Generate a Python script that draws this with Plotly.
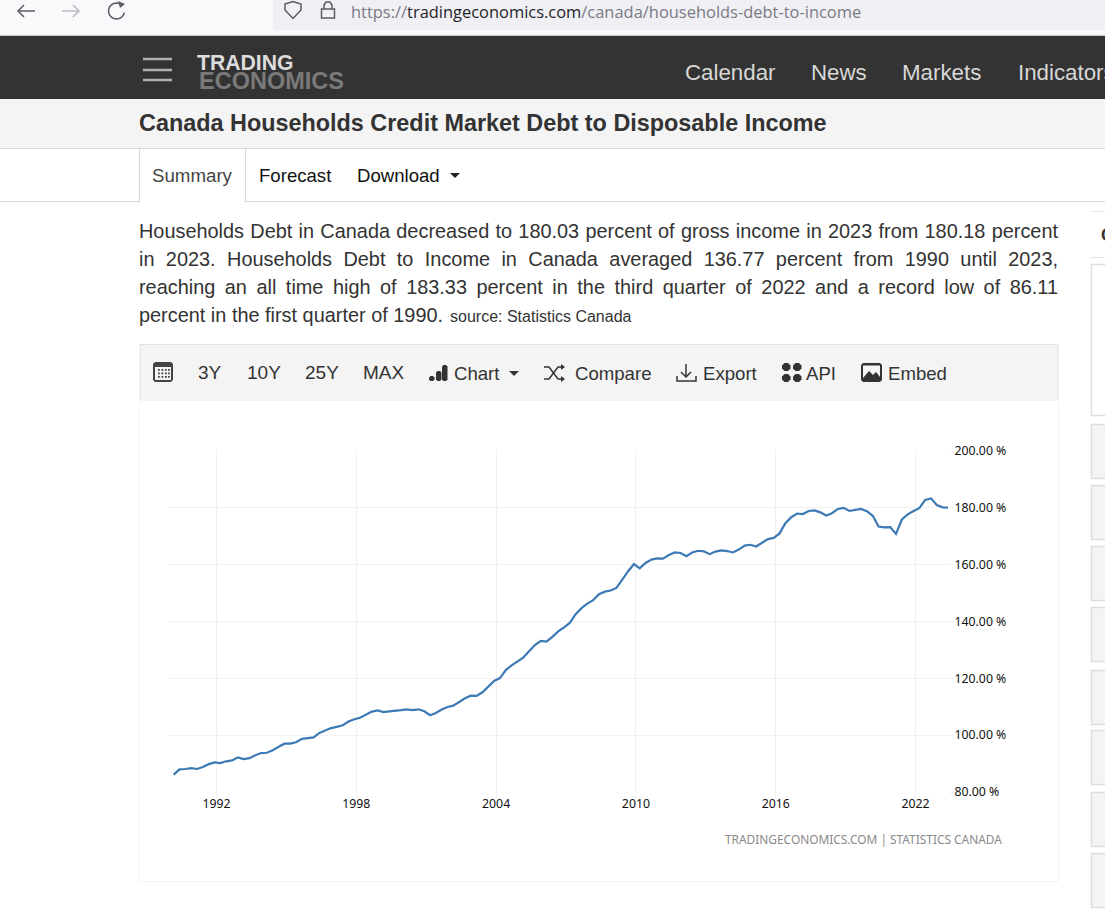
import math
import pandas as pd
import plotly.graph_objects as go

W, H = 1105, 915

# ---------- data ----------
START_QUARTER = "1990-03-01"
debt_to_income = [
    86.1, 87.95, 88.1, 88.4, 88.1, 88.8, 89.8, 90.4, 90.2, 90.8,
    91.1, 92.2, 91.6, 91.9, 92.9, 93.7, 93.8, 94.7, 95.9, 97.0,
    97.0, 97.5, 98.7, 98.9, 99.2, 100.8, 101.6, 102.5, 102.9, 103.5,
    104.8, 105.6, 106.1, 107.3, 108.3, 108.7, 108.1, 108.4, 108.5, 108.8,
    109.1, 108.8, 109.1, 108.4, 107.0, 107.8, 109.0, 109.9, 110.4, 111.7,
    113.0, 113.9, 113.8, 115.1, 117.3, 119.1, 120.1, 122.9, 124.6, 126.0,
    127.3, 129.5, 131.7, 133.2, 132.9, 134.6, 136.5, 137.9, 139.5, 142.6,
    144.7, 146.3, 147.5, 149.6, 150.5, 150.9, 151.8, 154.7, 157.7, 160.2,
    158.7, 160.6, 161.8, 162.2, 162.1, 163.4, 164.3, 164.1, 163.0, 164.3,
    164.9, 164.7, 163.7, 164.6, 165.0, 164.8, 164.3, 165.3, 166.7, 167.0,
    166.4, 167.7, 169.0, 169.4, 171.0, 174.6, 176.7, 178.0, 177.8, 178.9,
    179.1, 178.4, 177.3, 178.1, 179.6, 180.0, 178.9, 179.3, 179.6, 178.8,
    177.2, 173.4, 173.1, 173.2, 170.8, 175.9, 177.7, 178.9, 179.9, 182.8,
    183.33, 181.0, 180.18, 180.03,
]
x_tick_years = [1992, 1998, 2004, 2010, 2016, 2022]
y_tick_values = [80, 100, 120, 140, 160, 180, 200]
nav_items = [("Calendar", 685), ("News", 811), ("Markets", 902), ("Indicators", 1017.5)]
range_buttons = [("3Y", 198), ("10Y", 247), ("25Y", 305), ("MAX", 363)]
paragraph = [
    "Households Debt in Canada decreased to 180.03 percent of gross income in 2023 from 180.18 percent",
    "in 2023. Households Debt to Income in Canada averaged 136.77 percent from 1990 until 2023,",
    "reaching an all time high of 183.33 percent in the third quarter of 2022 and a record low of 86.11",
]
paragraph_last = "percent in the first quarter of 1990."

dates = pd.date_range(START_QUARTER, periods=len(debt_to_income), freq="3MS")

LINE = "#3d7ab5"
FONT = "Liberation Sans"
TICKF = "Noto Sans"

px = lambda v: v / W
py = lambda v: 1 - v / H

shapes, notes = [], []


def rect(x0, y0, x1, y1, fill="rgba(0,0,0,0)", line=None, lw=1):
    shapes.append(dict(type="rect", xref="paper", yref="paper", layer="below",
                       x0=px(x0), x1=px(x1), y0=py(y0), y1=py(y1), fillcolor=fill,
                       line=dict(color=line or "rgba(0,0,0,0)", width=lw if line else 0)))


def seg(x0, y0, x1, y1, color, lw=1):
    shapes.append(dict(type="line", xref="paper", yref="paper", layer="below",
                       x0=px(x0), x1=px(x1), y0=py(y0), y1=py(y1),
                       line=dict(color=color, width=lw)))


def poly(points, fill=None, line=None, lw=1.5, closed=True):
    d = "M" + " L".join(f"{px(a):.5f},{py(b):.5f}" for a, b in points) + (" Z" if closed else "")
    shapes.append(dict(type="path", xref="paper", yref="paper", layer="below", path=d,
                       fillcolor=fill or "rgba(0,0,0,0)",
                       line=dict(color=line or "rgba(0,0,0,0)", width=lw if line else 0)))


def rrect(x0, y0, x1, y1, r, fill):
    poly([(x0 + r, y0), (x1 - r, y0), (x1, y0 + r), (x1, y1 - r),
          (x1 - r, y1), (x0 + r, y1), (x0, y1 - r), (x0, y0 + r)], fill=fill)


def text(x, y, s, size, color="#333333", font=FONT, anchor="left", bold=False):
    if bold:
        s = f"<b>{s}</b>"
    notes.append(dict(xref="paper", yref="paper", x=px(x), y=py(y), text=s, showarrow=False,
                      xanchor=anchor, yanchor="middle", align=anchor,
                      font=dict(size=size, color=color, family=font),
                      borderpad=0, borderwidth=0))


# ---------- browser chrome ----------
rect(0, 0, W, 36, "#f9f9fb")
seg(0, 35.5, W, 35.5, "#cfcfd2", 1.5)
rect(273, 0, W, 30, "#f0f0f4")
poly([(35, 11), (18, 11)], line="#5b5b66", closed=False)
poly([(24, 5), (18, 11), (24, 17)], line="#5b5b66", closed=False)
poly([(62, 11), (79, 11)], line="#b9b9c0", closed=False)
poly([(73, 5), (79, 11), (73, 17)], line="#b9b9c0", closed=False)
arc = [(116.5 + 8 * math.cos(math.radians(a)), 11 - 8 * math.sin(math.radians(a)))
       for a in range(50, 360, 20)]
poly(arc, line="#5b5b66", closed=False)
poly([(118, 1), (125, 4), (120, 8)], fill="#5b5b66")
poly([(285, 4), (293, 1.5), (301, 4), (301, 10), (293, 18.5), (285, 10)], line="#5b5b66")
rect(321.5, 9, 334.5, 18, line="#5b5b66", lw=1.5)
poly([(324, 9), (324, 5), (326, 2), (330, 2), (332, 5), (332, 9)], line="#5b5b66", closed=False)
notes.append(dict(xref="paper", yref="paper", x=px(349), y=py(12), showarrow=False,
                  xanchor="left", yanchor="middle",
                  text='<span style="color:#7a7a85">https://</span>tradingeconomics.com'
                       '<span style="color:#7a7a85">/canada/households-debt-to-income</span>',
                  font=dict(size=16.45, color="#1f1f28", family="Open Sans")))

# ---------- site header ----------
rect(0, 36, W, 99, "#333333")
for yy in (59, 70, 80):
    seg(143, yy, 172, yy, "#b0b0b0", 2.5)
text(197, 62.5, "TRADING", 21.2, "#dddddd", bold=True)
text(199, 81.5, "ECONOMICS", 23.5, "#7a7a7a", bold=True)
for label, xx in nav_items:
    text(xx, 72, label, 22.3, "#d8d8d8")

rect(0, 99, W, 148.5, "#f4f4f4")
seg(0, 148.5, W, 148.5, "#d8d8d8")
text(139, 123, "Canada Households Credit Market Debt to Disposable Income", 23.4, "#333333", bold=True)

seg(0, 201.5, 139, 201.5, "#d8d8d8")
seg(245, 201.5, W, 201.5, "#d8d8d8")
seg(139.5, 149, 139.5, 202, "#d8d8d8")
seg(245.5, 149, 245.5, 202, "#d8d8d8")
text(152, 175.5, "Summary", 18.7, "#444444")
text(258.5, 175.5, "Forecast", 18.6, "#111111")
text(356.5, 175.5, "Download", 18.6, "#111111")
poly([(450, 173), (460, 173), (455, 178)], fill="#222222")

# ---------- paragraph ----------
for i, line in enumerate(paragraph):
    text(139, 231 + i * 28, line, 19.9, "#333333")
text(139, 315, paragraph_last, 19.9, "#333333")
text(450, 316, "source: Statistics Canada", 16, "#333333")

# ---------- chart toolbar ----------
rect(140, 344.5, 1058, 400.5, "#f4f4f4", "#e2e2e2")
rrect(153, 362, 173, 382, 2, "#444444")
rect(155, 367, 171, 380, "#f4f4f4")
for a in (159, 162.5, 166, 169):
    for b in (370, 373.5, 377):
        rect(a - 1, b - 1, a + 0.8, b + 0.8, "#444444")
for label, xx in range_buttons:
    text(xx, 372, label, 19, "#333333")
for a, top in ((429, 376), (436, 371), (442, 365)):
    rrect(a, top, a + 5.5, 381, 1.5, "#333333")
text(454, 373.5, "Chart", 18.6, "#333333")
poly([(509, 371), (519, 371), (514, 376)], fill="#333333")
poly([(544, 379), (549, 379), (558, 367), (564, 367)], line="#333333", closed=False)
poly([(544, 367), (549, 367), (558, 379), (564, 379)], line="#333333", closed=False)
poly([(561, 364), (565, 367), (561, 370)], fill="#333333")
poly([(561, 376), (565, 379), (561, 382)], fill="#333333")
text(575, 373.5, "Compare", 18.6, "#333333")
poly([(686, 364), (686, 377)], line="#333333", closed=False)
poly([(681, 372), (686, 377), (691, 372)], line="#333333", closed=False)
poly([(677, 376), (677, 381), (696, 381), (696, 376)], line="#333333", closed=False)
text(703, 373.5, "Export", 18.6, "#333333")
for a in (782, 793):
    for b in (363, 374):
        rrect(a, b, a + 8.5, b + 8, 2.5, "#333333")
text(806, 373.5, "API", 18.6, "#333333")
rrect(861, 363, 882, 382, 2, "#333333")
rect(863, 365.5, 880, 378, "#f4f4f4")
poly([(863, 378), (869, 371), (873, 375), (876, 372), (880, 377), (880, 378)], fill="#333333")
text(888, 373.5, "Embed", 18.6, "#333333")

# ---------- chart card ----------
rect(139.5, 400.5, 1058.5, 881.5, "#ffffff", "#f3f3f3")
text(1002, 838.5, "TRADINGECONOMICS.COM | STATISTICS CANADA", 11.9, "#8a8a8a", font=TICKF, anchor="right")

# ---------- sidebar ----------
seg(1091, 211.5, W, 211.5, "#e6e6e6")
seg(1091, 257.5, W, 257.5, "#e6e6e6")
text(1101, 235, "C", 18, "#333333", bold=True)
rect(1091.5, 264.5, 1110, 415.5, "#ffffff", "#dddddd", 1.5)
for top in (424, 485, 546, 607, 670, 730, 792, 853):
    rect(1091.5, top + 0.5, 1110, top + 54.5, "#f4f4f4", "#dddddd", 1.5)

fig = go.Figure(go.Scatter(x=dates, y=debt_to_income, mode="lines",
                           line=dict(color=LINE, width=2.2), hoverinfo="skip"))

PL, PR = 168, 948
Y_LOW, Y_HIGH = 79.8, 200.2
Y80_PX, Y200_PX = 792, 451
unit_px = (Y80_PX - Y200_PX) / 120
PB = Y80_PX + (80 - Y_LOW) * unit_px
PT = Y200_PX - (Y_HIGH - 200) * unit_px
t0 = pd.Timestamp("1992-01-01")
day_per_px = 365.25 / 23.3
xr0 = t0 + pd.Timedelta(days=(PL - 216.5) * day_per_px)
xr1 = t0 + pd.Timedelta(days=(PR - 216.5) * day_per_px)

fig.update_layout(
    width=W, height=H, autosize=False,
    margin=dict(l=0, r=0, t=0, b=0, pad=0),
    paper_bgcolor="#ffffff", plot_bgcolor="rgba(0,0,0,0)",
    showlegend=False, shapes=shapes, annotations=notes,
    xaxis=dict(domain=[px(PL), px(PR)], range=[xr0, xr1], type="date", automargin=False,
               tickvals=[pd.Timestamp(f"{y}-01-01") for y in x_tick_years],
               ticktext=[str(y) for y in x_tick_years],
               showgrid=True, gridcolor="#f0f0f0", gridwidth=1, zeroline=False,
               ticks="outside", ticklen=4, tickcolor="#f0f0f0", ticklabelstandoff=-4,
               showline=False,
               tickfont=dict(size=12.3, color="#111111", family=TICKF)),
    yaxis=dict(domain=[py(PB), py(PT)], range=[Y_LOW, Y_HIGH], side="right", automargin=False,
               tickvals=y_tick_values,
               ticktext=[f"{v:.2f} %" for v in y_tick_values],
               showgrid=True, gridcolor="#f2f2f2", gridwidth=1, zeroline=False,
               showline=False, ticks="outside", ticklen=5, tickcolor="#f2f2f2",
               ticklabelstandoff=-2,
               tickfont=dict(size=12.3, color="#111111", family=TICKF)),
)

POST = """
document.body.style.margin='0';
document.body.style.overflow='hidden';
var full=919;
document.querySelectorAll('.annotation-text').forEach(function(t){
  var s=t.textContent;
  if(s.indexOf('Households Debt in')===0||s.indexOf('in 2023. Households')===0||s.indexOf('reaching an')===0){
    var n=s.split(' ').length-1;
    var L=t.getComputedTextLength();
    t.style.wordSpacing=((full-L)/n)+'px';
  }
});
"""
fig.write_html("out.html", post_script=POST, config=dict(displayModeBar=False))
